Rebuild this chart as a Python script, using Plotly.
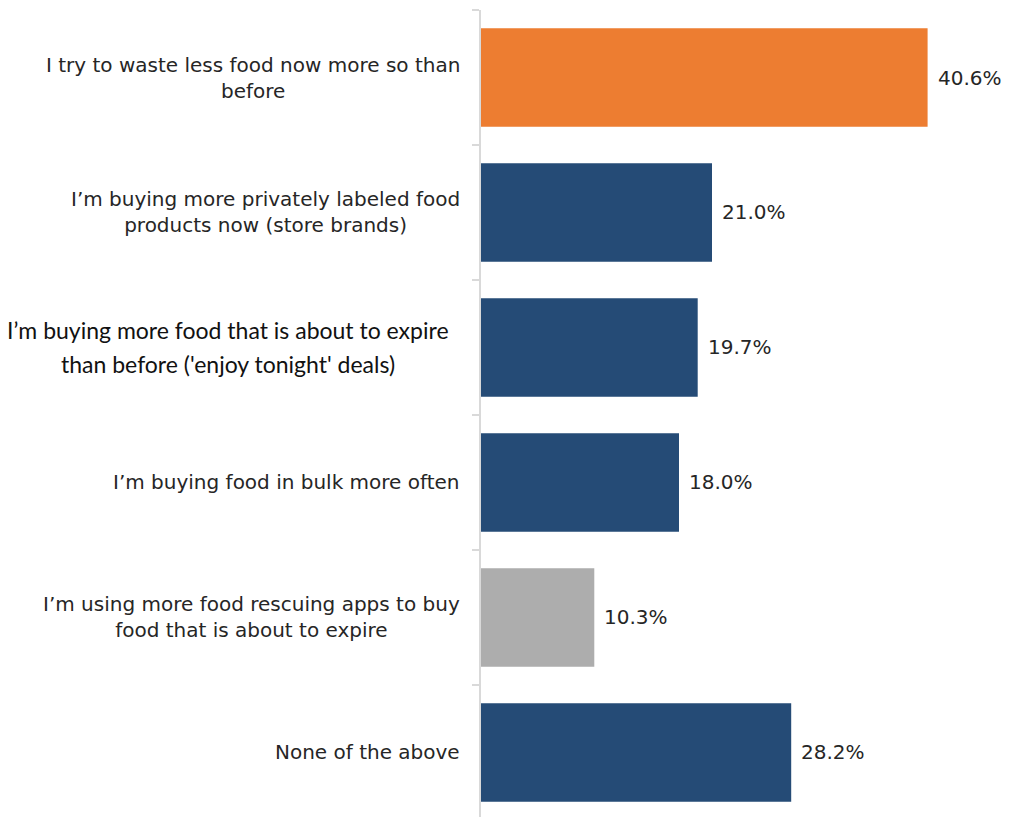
import plotly.graph_objects as go

categories = [
    "I try to waste less food now more so than<br>before",
    "I’m buying more privately labeled food<br>products now (store brands)",
    "I’m buying more food that is about to expire<br>than before ('enjoy tonight' deals)",
    "I’m buying food in bulk more often",
    "I’m using more food rescuing apps to buy<br>food that is about to expire",
    "None of the above",
]
values = [40.6, 21.0, 19.7, 18.0, 10.3, 28.2]
colors = ["#ED7D31", "#254B76", "#254B76", "#254B76", "#ADADAD", "#254B76"]

TXT = "#262626"
MAIN_FONT = "DejaVu Sans"
ALT_FONT = "Lato"  # the third label uses a different (Calibri-like) face

fig = go.Figure(go.Bar(
    x=values, y=list(range(len(categories))), orientation="h",
    marker=dict(color=colors, line=dict(width=0)),
    hoverinfo="skip",
))

annotations = []
for i, (cat, v) in enumerate(zip(categories, values)):
    if i == 2:
        lines = cat.split("<br>")
        for j, ln in enumerate(lines):
            annotations.append(dict(
                xref="paper", x=0, yref="y", y=i, text=ln, showarrow=False,
                xanchor="center", yanchor="middle", xshift=-253,
                yshift=17 if j == 0 else -17,
                font=dict(family=ALT_FONT, size=23, color="#111111"),
            ))
    else:
        annotations.append(dict(
            xref="paper", x=0, yref="y", y=i, text=cat, showarrow=False,
            xanchor="right", yanchor="middle", xshift=-19, align="center",
            font=dict(family=MAIN_FONT, size=20, color=TXT),
        ))
    annotations.append(dict(
        xref="x", x=v, yref="y", y=i, text=f"{v:.1f}%", showarrow=False,
        xanchor="left", yanchor="middle", xshift=8,
        font=dict(family=MAIN_FONT, size=20, color=TXT),
    ))

fig.update_layout(
    width=1010, height=817,
    margin=dict(l=481, r=1, t=10, b=0, pad=0),
    paper_bgcolor="white", plot_bgcolor="white",
    bargap=0.27,
    showlegend=False,
    annotations=annotations,
    xaxis=dict(range=[0, 48], visible=False, fixedrange=True),
    yaxis=dict(
        range=[5.478, -0.5], tickmode="array",
        tickvals=[i - 0.5 for i in range(len(categories))],
        ticktext=[""] * len(categories),
        showticklabels=False,
        ticks="outside", ticklen=7, tickwidth=2, tickcolor="#D9D9D9",
        showline=True, linecolor="#D9D9D9", linewidth=2,
        showgrid=False, zeroline=False, fixedrange=True,
    ),
)

fig.write_html("out.html")
